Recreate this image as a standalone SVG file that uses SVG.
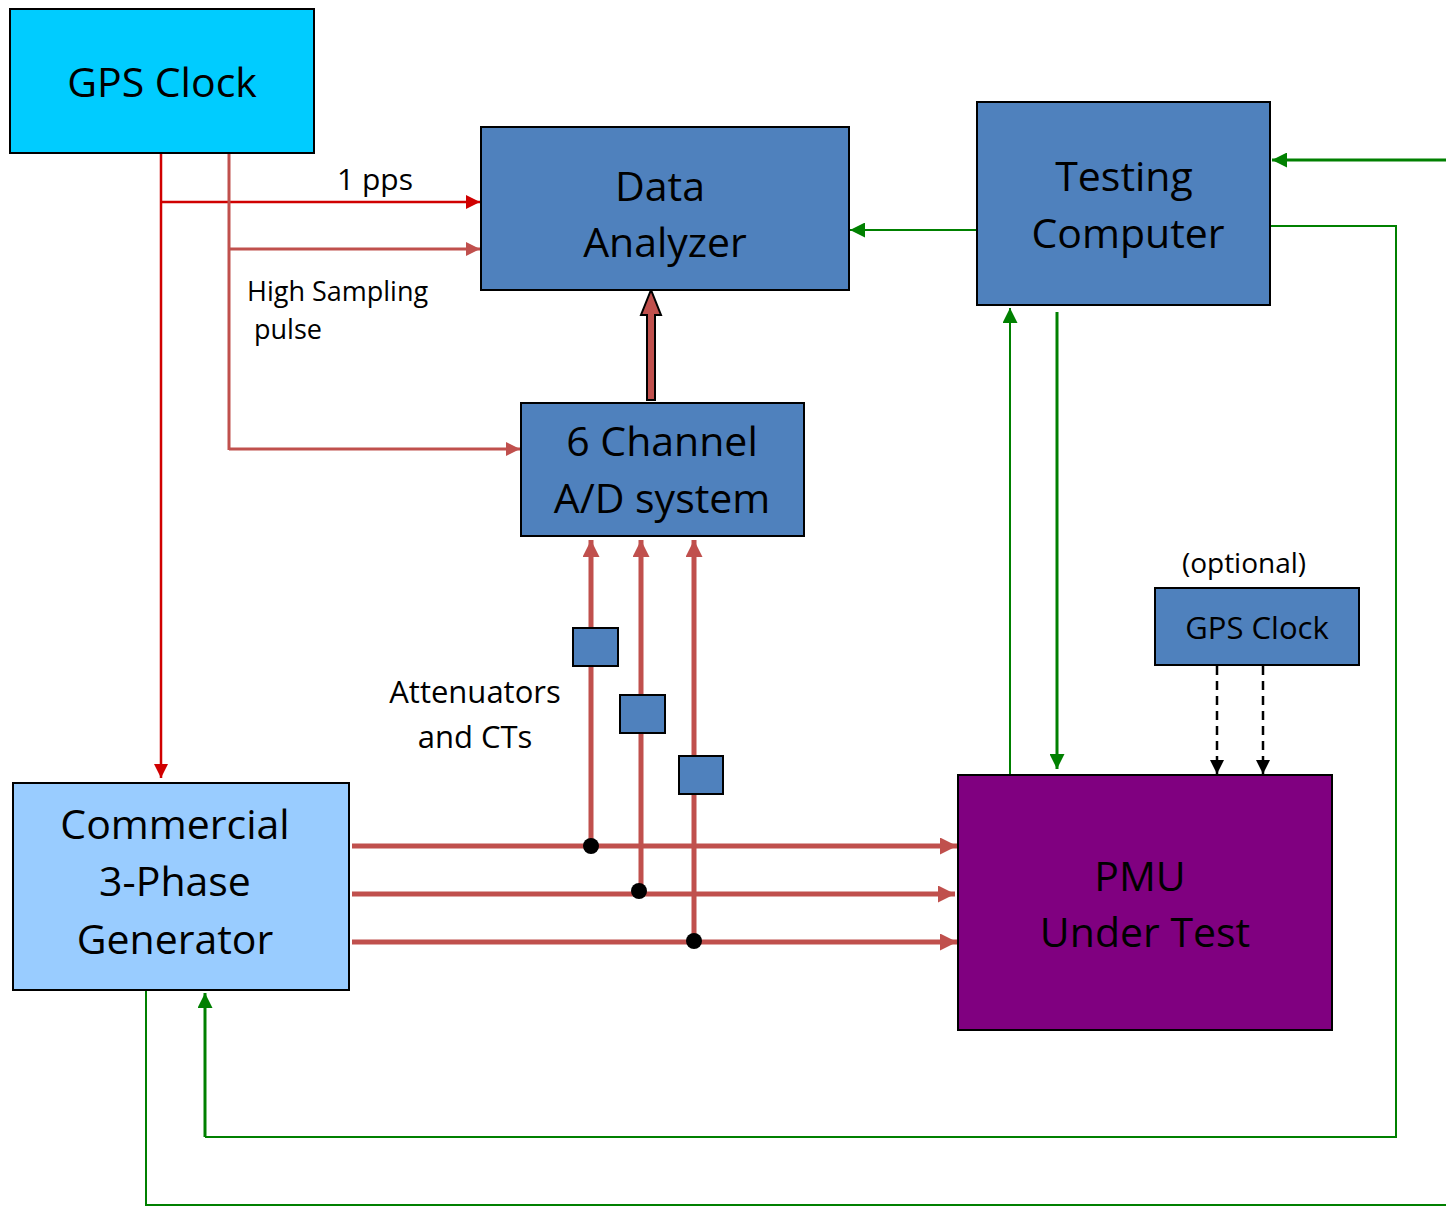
<svg xmlns="http://www.w3.org/2000/svg" width="1446" height="1206" viewBox="0 0 1446 1206">
<style>
text{font-family:"Open Sans","Liberation Sans",Arial,sans-serif;fill:#000;text-anchor:middle}
.big{font-size:41px}
.box{stroke:#000;stroke-width:2}
.blue{fill:#4F81BD}
.red{stroke:#D00000;stroke-width:2.5;fill:none}
.rust{stroke:#C0504D;stroke-width:3;fill:none}
.rustT{stroke:#C0504D;stroke-width:5;fill:none}
.grn{stroke:#008000;stroke-width:2;fill:none}
.grnT{stroke:#008000;stroke-width:3;fill:none}
.dash{stroke:#000;stroke-width:2.5;fill:none;stroke-dasharray:9,6}
</style>
<defs>
<marker id="aRed" viewBox="0 0 10 10" refX="10" refY="5" markerWidth="15" markerHeight="14" markerUnits="userSpaceOnUse" orient="auto"><path d="M0,0L10,5L0,10z" fill="#D00000"/></marker>
<marker id="aRust" viewBox="0 0 10 10" refX="10" refY="5" markerWidth="15" markerHeight="14" markerUnits="userSpaceOnUse" orient="auto"><path d="M0,0L10,5L0,10z" fill="#C0504D"/></marker>
<marker id="aRustB" viewBox="0 0 10 10" refX="10" refY="5" markerWidth="18" markerHeight="17" markerUnits="userSpaceOnUse" orient="auto"><path d="M0,0L10,5L0,10z" fill="#C0504D"/></marker>
<marker id="aGrn" viewBox="0 0 10 10" refX="10" refY="5" markerWidth="15" markerHeight="15" markerUnits="userSpaceOnUse" orient="auto"><path d="M0,0L10,5L0,10z" fill="#008000"/></marker>
<marker id="aBlk" viewBox="0 0 10 10" refX="10" refY="5" markerWidth="14" markerHeight="14" markerUnits="userSpaceOnUse" orient="auto"><path d="M0,0L10,5L0,10z" fill="#000"/></marker>
</defs>

<g id="connectors">
<path class="red" d="M161,153V778" marker-end="url(#aRed)"/>
<path class="red" d="M161,202H480" marker-end="url(#aRed)"/>
<path class="rust" d="M229,153V450"/>
<path class="rust" d="M229,249H480" marker-end="url(#aRust)"/>
<path class="rust" d="M229,449H520" marker-end="url(#aRust)"/>
<path d="M647,400V315H641L651,290L661,315H655V400Z" fill="#C0504D" stroke="#000" stroke-width="2"/>
<path class="rustT" d="M591,846V540" marker-end="url(#aRustB)"/>
<path class="rustT" d="M641,891V540" marker-end="url(#aRustB)"/>
<path class="rustT" d="M694,941V540" marker-end="url(#aRustB)"/>
<path class="rustT" d="M352,846H957" marker-end="url(#aRustB)"/>
<path class="rustT" d="M352,894H955" marker-end="url(#aRustB)"/>
<path class="rustT" d="M352,942H957" marker-end="url(#aRustB)"/>
<circle cx="591" cy="846" r="8" fill="#000"/>
<circle cx="639" cy="891" r="8" fill="#000"/>
<circle cx="694" cy="941" r="8" fill="#000"/>
<path class="grn" d="M977,230H850" marker-end="url(#aGrn)"/>
<path class="grnT" d="M1446,160H1272" marker-end="url(#aGrn)"/>
<path class="grn" d="M1270,226H1396V1137H205"/>
<path class="grnT" d="M205,1137V993" marker-end="url(#aGrn)"/>
<path class="grn" d="M1010,775V308" marker-end="url(#aGrn)"/>
<path class="grnT" d="M1057,312V769" marker-end="url(#aGrn)"/>
<path class="grn" d="M146,991V1205H1446"/>
<path class="dash" d="M1217,666V774" marker-end="url(#aBlk)"/>
<path class="dash" d="M1263,666V774" marker-end="url(#aBlk)"/>
</g>

<g id="gps-clock">
<rect class="box" x="10" y="9" width="304" height="144" fill="#00CCFF"/>
<text class="big" x="162" y="97">GPS Clock</text>
</g>
<g id="data-analyzer">
<rect class="box blue" x="481" y="127" width="368" height="163"/>
<text class="big" x="660" y="201">Data</text>
<text class="big" x="665" y="257">Analyzer</text>
</g>
<g id="testing-computer">
<rect class="box blue" x="977" y="102" width="293" height="203"/>
<text class="big" x="1124" y="191">Testing</text>
<text class="big" x="1128" y="248">Computer</text>
</g>
<g id="ad-system">
<rect class="box blue" x="521" y="403" width="283" height="133"/>
<text class="big" x="662" y="456">6 Channel</text>
<text class="big" x="662" y="513">A/D system</text>
</g>
<g id="generator">
<rect class="box" x="13" y="783" width="336" height="207" fill="#99CCFF"/>
<text class="big" x="175" y="839">Commercial</text>
<text class="big" x="175" y="896">3-Phase</text>
<text class="big" x="175" y="954">Generator</text>
</g>
<g id="pmu">
<rect class="box" x="958" y="775" width="374" height="255" fill="#800080"/>
<text class="big" x="1140" y="891">PMU</text>
<text class="big" x="1145" y="947">Under Test</text>
</g>
<g id="gps-clock-2">
<rect class="box blue" x="1155" y="588" width="204" height="77"/>
<text x="1257" y="639" font-size="31">GPS Clock</text>
</g>
<g id="att1"><rect class="box blue" x="573" y="628" width="45" height="38"/></g>
<g id="att2"><rect class="box blue" x="620" y="695" width="45" height="38"/></g>
<g id="att3"><rect class="box blue" x="679" y="756" width="44" height="38"/></g>

<g id="labels">
<text x="375" y="190" font-size="30">1 pps</text>
<text x="247" y="301" font-size="27" style="text-anchor:start">High Sampling</text>
<text x="254" y="339" font-size="27" style="text-anchor:start">pulse</text>
<text x="475" y="703" font-size="31">Attenuators</text>
<text x="475" y="748" font-size="31">and CTs</text>
<text x="1244" y="573" font-size="28">(optional)</text>
</g>
</svg>
